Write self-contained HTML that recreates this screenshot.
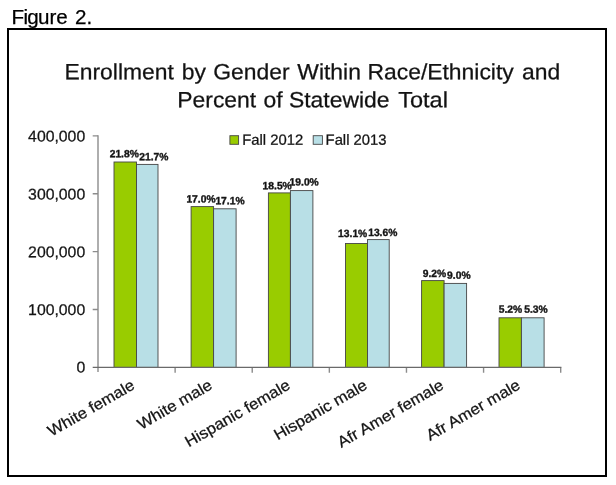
<!DOCTYPE html>
<html>
<head>
<meta charset="utf-8">
<title>Figure 2.</title>
<style>
html,body{margin:0;padding:0;background:#fff;}
body{width:616px;height:485px;position:relative;overflow:hidden;font-family:"Liberation Sans",sans-serif;}
#cap{position:absolute;left:11.5px;top:5.5px;font-size:20.6px;line-height:22px;color:#000;white-space:nowrap;-webkit-text-stroke:0.25px #000;}
#box{position:absolute;left:7px;top:28px;width:596px;height:445px;border:2px solid #000;}
svg{position:absolute;left:0;top:0;}
#tx{filter:blur(0.35px);}
svg text{font-family:"Liberation Sans",sans-serif;fill:#111;stroke:#222;stroke-width:0.28px;}
.t{font-size:22px;}
.y{font-size:15.5px;text-anchor:end;}
.x{font-size:15.6px;text-anchor:end;}
.d{font-size:10.5px;font-weight:bold;stroke:#222;stroke-width:0.4px;}
.l{font-size:14.8px;}
.g{fill:#99cc00;stroke:#454545;stroke-width:0.9;}
.b{fill:#b8dfe6;stroke:#454545;stroke-width:0.9;}
</style>
</head>
<body>
<div id="cap"><span style="letter-spacing:-0.7px">Fig</span>ure<span style="margin-left:1.6px"> 2.</span></div>
<div id="box"></div>
<svg width="616" height="485" viewBox="0 0 616 485">
<rect class="g" x="114" y="162" width="22.5" height="205.4"/>
<rect class="b" x="136.5" y="164.4" width="21.5" height="203"/>
<rect class="g" x="191.1" y="206.6" width="22.5" height="160.8"/>
<rect class="b" x="213.6" y="208.8" width="22.5" height="158.6"/>
<rect class="g" x="268.4" y="192.9" width="22" height="174.5"/>
<rect class="b" x="290.4" y="190.6" width="22.5" height="176.8"/>
<rect class="g" x="345.5" y="243.5" width="22" height="123.9"/>
<rect class="b" x="367.5" y="239.6" width="21.7" height="127.8"/>
<rect class="g" x="421.6" y="280.6" width="22.5" height="86.8"/>
<rect class="b" x="444.1" y="283.4" width="22.5" height="84"/>
<rect class="g" x="499" y="317.8" width="22.4" height="49.6"/>
<rect class="b" x="521.4" y="317.8" width="22.7" height="49.6"/>
<g stroke="#8c8c8c" stroke-width="1.4" fill="none">
<path d="M98 135.2V372.1"/>
<path d="M92.7 135.9H98M92.7 193.78H98M92.7 251.65H98M92.7 309.52H98"/>
<path d="M175.12 367.4V372.7M252.23 367.4V372.7M329.35 367.4V372.7M406.47 367.4V372.7M483.58 367.4V372.7M560.7 367.4V372.7"/>
<path d="M92.7 367.4H561.4" stroke="#6a6a6a" stroke-width="1.1"/>
</g>
<rect class="g" x="229.9" y="135.7" width="8.7" height="8.6"/>
<rect class="b" x="313.2" y="135.7" width="9.2" height="8.6"/>
<g id="tx">
<text class="t" transform="translate(64.5 79.3) rotate(0.03) scale(1.04 1)">Enrollment</text>
<text class="t" transform="translate(181.7 79.3) rotate(0.03) scale(1.04 1)">by</text>
<text class="t" transform="translate(213.2 79.3) rotate(0.03) scale(1.04 1)">Gender</text>
<text class="t" transform="translate(297.3 79.3) rotate(0.03) scale(1.04 1)">Within</text>
<text class="t" transform="translate(367.5 79.3) rotate(0.03) scale(1.04 1)">Race/Ethnicity</text>
<text class="t" transform="translate(522 79.3) rotate(0.03) scale(1.04 1)">and</text>
<text class="t" transform="translate(177.3 107.2) rotate(0.03) scale(1.04 1)">Percent</text>
<text class="t" transform="translate(263.5 107.2) rotate(0.03) scale(1.04 1)">of</text>
<text class="t" transform="translate(289 107.2) rotate(0.03) scale(1.04 1)">Statewide</text>
<text class="t" transform="translate(398.2 107.2) rotate(0.03) scale(1.07 1)">Total</text>
<text class="y" transform="translate(85.2 141.6) rotate(0.05) scale(1.02 1)">400,000</text>
<text class="y" transform="translate(85.2 199.47) rotate(0.05) scale(1.02 1)">300,000</text>
<text class="y" transform="translate(85.2 257.35) rotate(0.05) scale(1.02 1)">200,000</text>
<text class="y" transform="translate(85.2 315.02) rotate(0.05) scale(1.02 1)">100,000</text>
<text class="y" transform="translate(85.2 372.4) rotate(0.05) scale(1.02 1)">0</text>
<text class="l" transform="translate(242.3 144.7) rotate(0.05) scale(1 1)">Fall 2012</text>
<text class="l" transform="translate(325.6 144.7) rotate(0.05) scale(1 1)">Fall 2013</text>
<text class="d" transform="translate(109.7 157.2) rotate(0.05) scale(0.98 1)">21.8%</text>
<text class="d" transform="translate(139.3 160.2) rotate(0.05) scale(0.98 1)">21.7%</text>
<text class="d" transform="translate(186.4 202.5) rotate(0.05) scale(0.98 1)">17.0%</text>
<text class="d" transform="translate(215.4 204.2) rotate(0.05) scale(0.98 1)">17.1%</text>
<text class="d" transform="translate(262.6 189.2) rotate(0.05) scale(0.98 1)">18.5%</text>
<text class="d" transform="translate(289.6 185.6) rotate(0.05) scale(0.98 1)">19.0%</text>
<text class="d" transform="translate(338.1 237.1) rotate(0.05) scale(0.98 1)">13.1%</text>
<text class="d" transform="translate(368.2 235.9) rotate(0.05) scale(0.98 1)">13.6%</text>
<text class="d" transform="translate(422.7 276.9) rotate(0.05) scale(0.98 1)">9.2%</text>
<text class="d" transform="translate(447.1 278.7) rotate(0.05) scale(0.98 1)">9.0%</text>
<text class="d" transform="translate(498.7 312.7) rotate(0.05) scale(0.98 1)">5.2%</text>
<text class="d" transform="translate(524.3 312.7) rotate(0.05) scale(0.98 1)">5.3%</text>
<text class="x" transform="translate(135.9 388.2) rotate(-30) scale(1.07 1)">White female</text>
<text class="x" transform="translate(213.4 388.2) rotate(-30) scale(1.07 1)">White male</text>
<text class="x" transform="translate(291.4 388.2) rotate(-30) scale(1.07 1)">Hispanic female</text>
<text class="x" transform="translate(368.4 388.2) rotate(-30) scale(1.07 1)">Hispanic male</text>
<text class="x" transform="translate(444.9 388.2) rotate(-30) scale(1.07 1)">Afr Amer female</text>
<text class="x" transform="translate(521.4 388.2) rotate(-30) scale(1.07 1)">Afr Amer male</text>
</g>
</svg>
</body>
</html>
